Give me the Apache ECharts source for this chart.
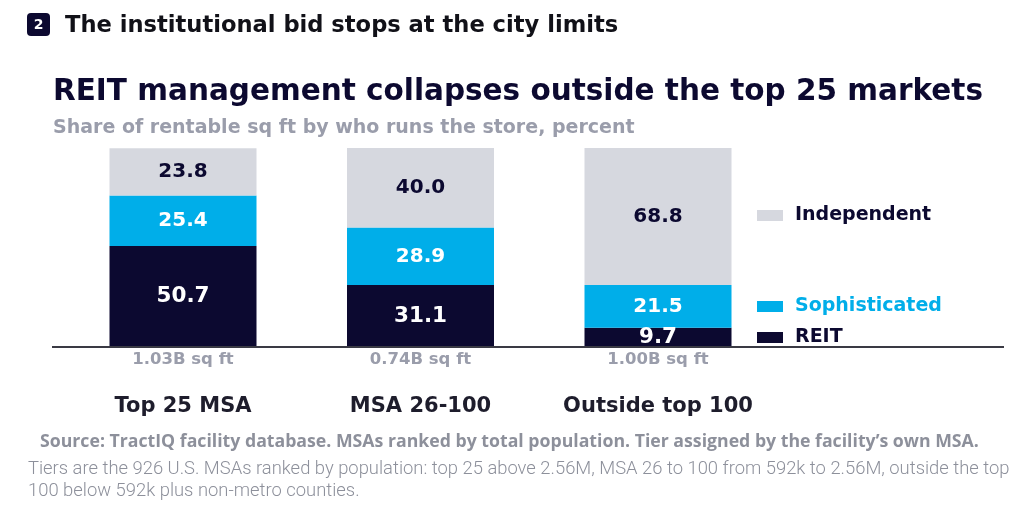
<!DOCTYPE html>
<html>
<head>
<meta charset="utf-8">
<script src="https://cdn.jsdelivr.net/npm/echarts@6/dist/echarts.min.js"></script>
<style>
html,body{margin:0;padding:0;background:#fff;}
#chart{width:1024px;height:507px;}
</style>
</head>
<body>
<div id="chart"></div>
<script>
var categories = ['Top 25 MSA', 'MSA 26-100', 'Outside top 100'];
var sqftLabels = ['1.03B sq ft', '0.74B sq ft', '1.00B sq ft'];
var reitValues = [50.7, 31.1, 9.7];
var sophisticatedValues = [25.4, 28.9, 21.5];
var independentValues = [23.8, 40.0, 68.8];

var NAVY = '#0c0930';
var CYAN = '#00aee9';
var GREY = '#d6d8df';
var WIDE = '"DejaVu Sans", sans-serif';
var OPEN = '"Open Sans", "Noto Sans", sans-serif';

var chart = echarts.init(document.getElementById('chart'));

function legendFor(name, top, color) {
  return {
    data: [name], left: 757, top: top, padding: 0,
    itemWidth: 26, itemHeight: 11, icon: 'rect',
    selectedMode: false,
    textStyle: { color: color, fontFamily: WIDE, fontWeight: 'bold', fontSize: 19, padding: [0, 0, 0, 7] }
  };
}

function valueLabel(color, size) {
  return { show: true, position: 'inside', color: color, fontWeight: 'bold', fontSize: size, fontFamily: WIDE,
    formatter: function (p) { return p.value.toFixed(1); } };
}

var option = {
  animation: false,
  textStyle: { fontFamily: WIDE },
  title: [
    { text: 'The institutional bid stops at the city limits', left: 65, top: 12, padding: 0,
      textStyle: { fontFamily: WIDE, fontWeight: 'bold', fontSize: 22.6, color: '#111118', lineHeight: 28 } },
    { text: 'REIT management collapses outside the top 25 markets', left: 53, top: 74, padding: 0,
      textStyle: { fontFamily: WIDE, fontWeight: 'bold', fontSize: 29.5, color: NAVY, lineHeight: 36 } },
    { text: 'Share of rentable sq ft by who runs the store, percent', left: 53, top: 115, padding: 0,
      textStyle: { fontFamily: WIDE, fontWeight: 'bold', fontSize: 19, color: '#9a9dab', lineHeight: 26 } },
    { text: 'Source: TractIQ facility database. MSAs ranked by total population. Tier assigned by the facility\u2019s own MSA.',
      left: 40, top: 431, padding: 0,
      textStyle: { fontFamily: OPEN, fontWeight: 'bold', fontSize: 17.7, color: '#8d909b', lineHeight: 22 } },
    { text: 'Tiers are the 926 U.S. MSAs ranked by population: top 25 above 2.56M, MSA 26 to 100 from 592k to 2.56M, outside the top\n100 below 592k plus non-metro counties.',
      left: 28, top: 458, padding: 0,
      textStyle: { fontFamily: 'Roboto, sans-serif', fontWeight: 300, fontSize: 18.4, color: '#8d909b', lineHeight: 22 } }
  ],
  legend: [
    legendFor('Independent', 206, NAVY),
    legendFor('Sophisticated', 297, CYAN),
    legendFor('REIT', 328, NAVY)
  ],
  grid: { left: 64.25, width: 712.5, top: 148, bottom: 160, containLabel: false },
  xAxis: [
    {
      type: 'category',
      data: categories,
      axisLine: { show: false },
      axisTick: { show: false },
      axisLabel: {
        interval: 0,
        margin: 3,
        formatter: function (v, i) { return sqftLabels[i]; },
        fontFamily: WIDE, fontWeight: 'bold', fontSize: 16.5, color: '#9a9dab', lineHeight: 20
      }
    },
    {
      type: 'category',
      position: 'bottom',
      offset: 0,
      data: categories,
      axisLine: { show: false },
      axisTick: { show: false },
      axisLabel: {
        interval: 0,
        hideOverlap: false,
        margin: 47,
        fontFamily: WIDE, fontWeight: 'bold', fontSize: 21, color: '#1e1d2c', lineHeight: 26
      }
    }
  ],
  yAxis: { type: 'value', min: 0, max: 100, show: false, splitLine: { show: false } },
  series: [
    { name: 'REIT', type: 'bar', stack: 'a', data: reitValues, barWidth: 147, itemStyle: { color: NAVY },
      label: valueLabel('#fff', 21.5) },
    { name: 'Sophisticated', type: 'bar', stack: 'a', data: sophisticatedValues, barWidth: 147, itemStyle: { color: CYAN },
      label: valueLabel('#fff', 20) },
    { name: 'Independent', type: 'bar', stack: 'a', data: independentValues, barWidth: 147, itemStyle: { color: GREY },
      label: valueLabel(NAVY, 20) }
  ],
  graphic: [
    { type: 'rect', left: 27, top: 13, shape: { width: 23, height: 23, r: 4 }, style: { fill: NAVY } },
    { type: 'text', x: 38.5, y: 25, style: { text: '2', fill: '#fff', font: 'bold 14px ' + WIDE, textAlign: 'center', textVerticalAlign: 'middle' } },
    { type: 'rect', left: 52, top: 346, shape: { width: 952, height: 2 }, style: { fill: '#3a3a44' }, z: 10 }
  ]
};
chart.setOption(option);
</script>
</body>
</html>
